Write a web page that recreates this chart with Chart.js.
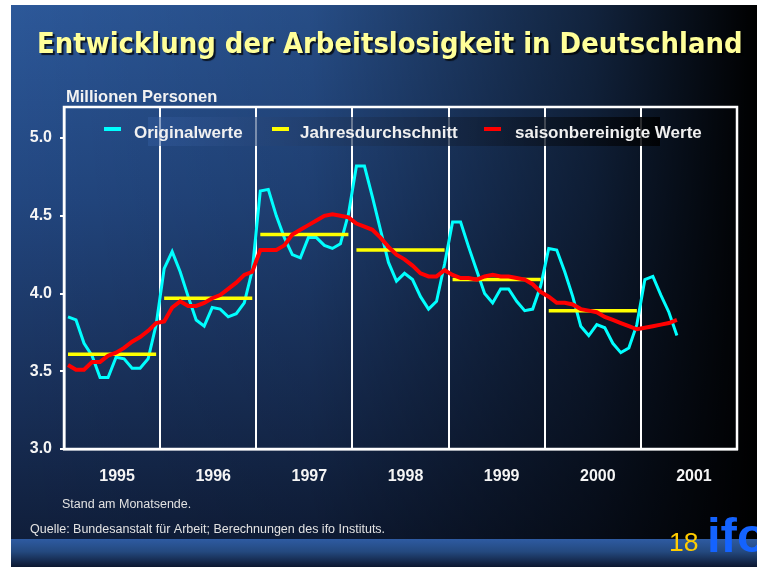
<!DOCTYPE html>
<html>
<head>
<meta charset="utf-8">
<script src="https://cdn.jsdelivr.net/npm/chart.js@4.4.0/dist/chart.umd.min.js"></script>
<style>
    html, body { margin: 0; padding: 0; background: #fff; }
    #slide {
        position: absolute; left: 11px; top: 5px; width: 746px; height: 562px;
        background:
            linear-gradient(to right, rgba(0,0,0,0) 0%, rgba(0,0,0,0.12) 40%, rgba(0,0,0,0.6) 78%, rgba(0,0,0,1) 100%),
            linear-gradient(to bottom, #2c5899 0%, #22467f 35%, #182f58 70%, #0e1b35 100%);
    }
    #band {
        position: absolute; left: 11px; top: 539px; width: 746px; height: 28px;
        background: linear-gradient(to bottom, #2e5ba2 0%, #24497f 45%, #0c1730 100%);
    }
    #chart { position: absolute; left: 0; top: 0; }
</style>
</head>
<body>
<div id="slide"></div>
<div id="band"></div>
<canvas id="chart" width="757" height="567"></canvas>
<script>
// Jahre (Achsenbeschriftung)
const yearLabels = ['1995', '1996', '1997', '1998', '1999', '2000', '2001'];

// Arbeitslose in Mio., Monatswerte ab Jan 1995 bis Mai 2001
const originalwerte = [
    3.85, 3.83, 3.68, 3.60, 3.46, 3.46, 3.59, 3.58, 3.52, 3.52, 3.58, 3.80,
    4.16, 4.27, 4.14, 3.98, 3.83, 3.79, 3.91, 3.90, 3.85, 3.87, 3.94, 4.15,
    4.66, 4.67, 4.50, 4.36, 4.25, 4.23, 4.36, 4.36, 4.31, 4.29, 4.32, 4.51,
    4.82, 4.82, 4.62, 4.41, 4.20, 4.08, 4.13, 4.09, 3.98, 3.90, 3.95, 4.19,
    4.46, 4.46, 4.30, 4.15, 4.00, 3.94, 4.03, 4.03, 3.95, 3.89, 3.90, 4.05,
    4.29, 4.28, 4.14, 3.98, 3.79, 3.73, 3.80, 3.78, 3.68, 3.62, 3.65, 3.80,
    4.09, 4.11, 3.99, 3.88, 3.73
];

const saisonbereinigt = [
    3.54, 3.51, 3.51, 3.56, 3.56, 3.60, 3.62, 3.65, 3.69, 3.72, 3.76, 3.81,
    3.82, 3.91, 3.95, 3.92, 3.92, 3.94, 3.97, 3.99, 4.03, 4.07, 4.12, 4.14,
    4.28, 4.28, 4.28, 4.31, 4.38, 4.41, 4.44, 4.47, 4.50, 4.51, 4.50, 4.49,
    4.45, 4.43, 4.41, 4.36, 4.30, 4.25, 4.22, 4.18, 4.13, 4.11, 4.11, 4.15,
    4.12, 4.10, 4.10, 4.09, 4.11, 4.12, 4.11, 4.11, 4.10, 4.09, 4.06, 4.01,
    3.98, 3.94, 3.94, 3.93, 3.90, 3.89, 3.88, 3.85, 3.83, 3.81, 3.79, 3.77,
    3.78, 3.79, 3.80, 3.81, 3.83
];

// Jahresdurchschnitt 1995 - 2000
const jahresdurchschnitt = [3.61, 3.97, 4.38, 4.28, 4.09, 3.89];

const yMin = 3.0, yMax = 5.2, yStep = 0.5;

function monthPoints(values) {
    return values.map((v, i) => ({ x: i + 0.5, y: v }));
}

function yearSegments(values) {
    const pts = [];
    values.forEach((v, i) => {
        pts.push({ x: i * 12 + 0.5, y: v });
        pts.push({ x: i * 12 + 11.5, y: v });
        pts.push({ x: i * 12 + 12, y: null });
    });
    return pts;
}

// Legend inside the plot + slide texts
const slidePlugin = {
    id: 'slide',
    afterDraw(chart) {
        const ctx = chart.ctx;
        ctx.save();

        // title: bold, fitted to width, stretched a bit in height
        const title = 'Entwicklung der Arbeitslosigkeit in Deutschland';
        ctx.font = 'bold 28px "DejaVu Sans"';
        const w28 = ctx.measureText(title).width;
        const titleSize = 28 * 706 / w28;
        const stretch = 21 / (0.729 * titleSize);
        ctx.font = 'bold ' + titleSize + 'px "DejaVu Sans"';
        ctx.textBaseline = 'alphabetic';
        ctx.textAlign = 'left';
        ctx.save();
        ctx.translate(37, 53);
        ctx.scale(1, stretch);
        ctx.shadowColor = 'rgba(0,0,0,0.75)';
        ctx.shadowOffsetX = 2;
        ctx.shadowOffsetY = 2;
        ctx.shadowBlur = 1;
        ctx.fillStyle = '#ffff99';
        ctx.fillText(title, 0, 0);
        ctx.restore();

        // unit label
        ctx.fillStyle = '#f2f2f2';
        ctx.font = 'bold 16.5px "Liberation Sans", Arial';
        ctx.fillText('Millionen Personen', 66, 102);

        // legend box
        const g = ctx.createLinearGradient(148, 0, 660, 0);
        g.addColorStop(0, 'rgba(50,90,155,0.55)');
        g.addColorStop(1, 'rgba(0,0,0,0.85)');
        ctx.fillStyle = g;
        ctx.fillRect(148, 117, 512, 29);

        const legendX = [[104, 134], [272, 300], [484, 515]];
        ctx.font = 'bold 17px "Liberation Sans", Arial';
        chart.data.datasets.forEach((ds, i) => {
            const [mx, tx] = legendX[i];
            ctx.strokeStyle = ds.borderColor;
            ctx.lineWidth = 4;
            ctx.beginPath();
            ctx.moveTo(mx, 129);
            ctx.lineTo(mx + 17, 129);
            ctx.stroke();
            ctx.fillStyle = '#f0f0f0';
            ctx.fillText(ds.label, tx, 138);
        });

        // footnotes
        ctx.fillStyle = '#e2e2e2';
        ctx.font = '12.5px "Liberation Sans", Arial';
        ctx.fillText('Stand am Monatsende.', 62, 508);
        ctx.fillText('Quelle: Bundesanstalt für Arbeit; Berechnungen des ifo Instituts.', 30, 533);

        // page number and logo
        ctx.fillStyle = '#ffcc00';
        ctx.font = '26.5px "Liberation Sans", Arial';
        ctx.fillText('18', 669, 551);
        ctx.fillStyle = '#1463ff';
        ctx.font = 'bold 49px "Liberation Sans", Arial';
        ctx.fillText('ifo', 707, 552);

        ctx.restore();
    }
};

const framePlugin = {
    id: 'frame',
    beforeDatasetsDraw(chart) {
        const a = chart.chartArea;
        const ctx = chart.ctx;
        ctx.save();
        ctx.strokeStyle = '#ffffff';
        ctx.lineWidth = 2.5;
        ctx.strokeRect(a.left, a.top, a.right - a.left, a.bottom - a.top);
        ctx.restore();
    }
};

new Chart(document.getElementById('chart').getContext('2d'), {
    type: 'line',
    data: {
        datasets: [{
            label: 'Originalwerte',
            data: monthPoints(originalwerte),
            borderColor: '#00ffff',
            borderWidth: 3,
            pointRadius: 0,
            tension: 0,
            order: 3
        }, {
            label: 'Jahresdurchschnitt',
            data: yearSegments(jahresdurchschnitt),
            borderColor: '#ffff00',
            borderWidth: 3.5,
            pointRadius: 0,
            spanGaps: false,
            order: 2
        }, {
            label: 'saisonbereinigte Werte',
            data: monthPoints(saisonbereinigt),
            borderColor: '#ff0000',
            borderWidth: 4,
            pointRadius: 0,
            tension: 0,
            order: 1
        }]
    },
    options: {
        responsive: false,
        animation: false,
        layout: { padding: { left: 0, top: 107, right: 20, bottom: 78 } },
        plugins: {
            legend: { display: false },
            tooltip: { enabled: false }
        },
        scales: {
            x: {
                type: 'linear',
                min: 0,
                max: yearLabels.length * 12,
                afterFit: s => { s.height = 40; },
                border: { display: true, color: '#ffffff', width: 2.5 },
                grid: {
                    drawTicks: false,
                    lineWidth: 2,
                    color: c => (c.tick && c.tick.value % 12 === 0) ? '#ffffff' : 'rgba(0,0,0,0)'
                },
                ticks: {
                    stepSize: 6,
                    autoSkip: false,
                    maxRotation: 0,
                    padding: 18,
                    labelOffset: 5,
                    color: '#f5f5f5',
                    font: { family: '"Liberation Sans", Arial', size: 16, weight: 'bold' },
                    callback: v => (v % 12 === 6) ? yearLabels[(v - 6) / 12] : ''
                }
            },
            y: {
                min: yMin,
                max: yMax,
                afterFit: s => { s.width = 64; },
                border: { display: true, color: '#ffffff', width: 2.5 },
                grid: { drawOnChartArea: false, drawTicks: true, tickLength: 4, color: '#ffffff', lineWidth: 2 },
                ticks: {
                    stepSize: yStep,
                    includeBounds: false,
                    padding: 8,
                    color: '#f5f5f5',
                    font: { family: '"Liberation Sans", Arial', size: 16, weight: 'bold' },
                    callback: v => v.toFixed(1)
                }
            }
        }
    },
    plugins: [framePlugin, slidePlugin]
});
</script>
</body>
</html>
